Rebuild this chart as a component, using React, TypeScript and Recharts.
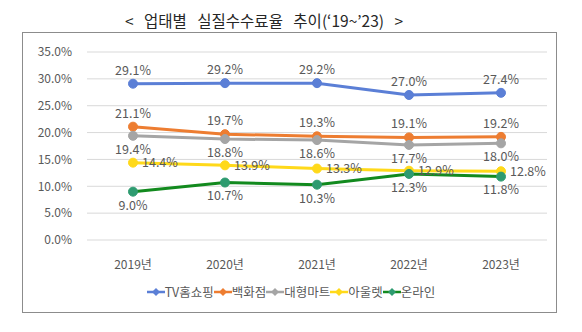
import { LineChart, Line, XAxis, YAxis, CartesianGrid, Legend, LabelList } from 'recharts'

const years = ['2019년', '2020년', '2021년', '2022년', '2023년']
const tvHomeShopping = [29.1, 29.2, 29.2, 27.0, 27.4]
const departmentStore = [21.1, 19.7, 19.3, 19.1, 19.2]
const hypermarket = [19.4, 18.8, 18.6, 17.7, 18.0]
const outlet = [14.4, 13.9, 13.3, 12.9, 12.8]
const online = [9.0, 10.7, 10.3, 12.3, 11.8]
const yTicks = [0, 5, 10, 15, 20, 25, 30, 35]

const FONT = "'Noto Sans CJK KR', 'Noto Sans', sans-serif"
const TEXT = '#595959'

const series = [
  { key: 'tv', name: 'TV홈쇼핑', values: tvHomeShopping, line: '#5B7FD6', dot: '#5B7FD6', pos: 'top' },
  { key: 'dept', name: '백화점', values: departmentStore, line: '#ED7D31', dot: '#ED7D31', pos: 'top' },
  { key: 'mart', name: '대형마트', values: hypermarket, line: '#A5A5A5', dot: '#A5A5A5', pos: 'bottom' },
  { key: 'outlet', name: '아울렛', values: outlet, line: '#FFD91A', dot: '#FFD91A', pos: 'right' },
  { key: 'online', name: '온라인', values: online, line: '#128A1E', dot: '#2E9B70', pos: 'bottom' },
]

const data = years.map((year, i) => {
  const row: Record<string, string | number> = { year }
  series.forEach((s) => {
    row[s.key] = s.values[i]
  })
  return row
})

const fmt = (v: number) => `${Number(v).toFixed(1)}%`

const LegendContent = () => (
  <div style={{ display: 'flex', justifyContent: 'center', fontFamily: FONT, fontSize: 12.5, color: TEXT, height: 14 }}>
    {series.map((s) => (
      <div key={s.key} style={{ display: 'flex', alignItems: 'center' }}>
        <svg width={18} height={10}>
          <line x1={0} y1={5} x2={18} y2={5} stroke={s.line} strokeWidth={2.5} />
          <path d="M9 1 L13 5 L9 9 L5 5 Z" fill={s.dot} />
        </svg>
        <span style={{ lineHeight: '14px' }}>{s.name}</span>
      </div>
    ))}
  </div>
)

const App = () => {
  return (
    <div style={{ position: 'absolute', left: 0, top: 0, width: 582, height: 332, background: '#fff', fontFamily: FONT }}>
      <div style={{ position: 'absolute', left: 125, top: 8, whiteSpace: 'pre', fontSize: 15.5, wordSpacing: 7, color: '#262626', lineHeight: '24px' }}>
        {'< 업태별 실질수수료율 추이(‘19~’23) >'}
      </div>
      <div style={{ position: 'absolute', left: 22, top: 32, width: 533, height: 279, border: '1px solid #8c8c8c' }} />
      <div style={{ position: 'absolute', left: 0, top: 0 }}>
        <LineChart width={582} height={332} data={data} margin={{ top: 52, right: 35, bottom: 48, left: 30 }}>
          <CartesianGrid vertical={false} stroke="#d9d9d9" />
          <XAxis
            dataKey="year"
            axisLine={false}
            tickLine={false}
            tickMargin={14}
            padding={{ left: 46, right: 46 }}
            tick={{ fill: TEXT, fontSize: 12, fontFamily: FONT }}
          />
          <YAxis
            width={57}
            domain={[0, 35]}
            ticks={yTicks}
            axisLine={false}
            tickLine={false}
            tickFormatter={fmt}
            tick={{ fill: TEXT, fontSize: 12, fontFamily: FONT, dx: -7 }}
          />
          <Legend
            verticalAlign="bottom"
            content={LegendContent}
            wrapperStyle={{ position: 'absolute', top: 285, left: 0, width: 582, height: 14 }}
          />
          {series.map((s) => (
            <Line
              key={s.key}
              dataKey={s.key}
              name={s.name}
              stroke={s.line}
              strokeWidth={3}
              dot={{ r: 4.5, fill: s.dot, stroke: s.dot, strokeWidth: 1 }}
              isAnimationActive={false}
            >
              <LabelList
                dataKey={s.key}
                position={s.pos as 'top' | 'bottom' | 'right'}
                offset={9}
                formatter={fmt}
                fill={TEXT}
                fontSize={12.5}
                fontFamily={FONT}
              />
            </Line>
          ))}
        </LineChart>
      </div>
    </div>
  )
}

export default App
